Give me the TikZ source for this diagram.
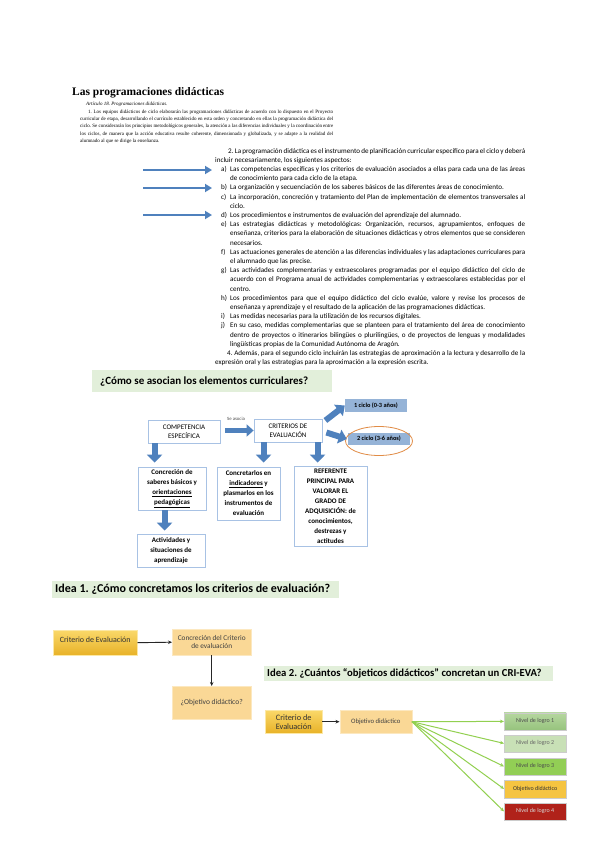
\documentclass[tikz,border=0pt]{standalone}
\usepackage{fontspec}
\setmainfont{Carlito}
\newfontfamily\seriffont{Liberation Serif}
\usetikzlibrary{arrows.meta,calc}
\definecolor{barblue}{RGB}{79,129,189}
\definecolor{boxblue}{RGB}{168,194,228}
\definecolor{cyclefill}{RGB}{149,179,215}
\definecolor{titlegreen}{RGB}{226,239,218}
\definecolor{goldtop}{RGB}{250,216,105}
\definecolor{goldbot}{RGB}{232,178,40}
\definecolor{peach}{RGB}{250,216,150}
\definecolor{lgreen}{RGB}{146,208,80}
\definecolor{ovalor}{RGB}{225,140,70}
\definecolor{g1top}{RGB}{182,215,160}
\definecolor{g1bot}{RGB}{150,195,125}
\definecolor{g2}{RGB}{200,224,182}
\definecolor{g3}{RGB}{146,206,85}
\definecolor{gold4}{RGB}{245,196,65}
\definecolor{red5}{RGB}{176,34,26}
\newcommand\itm[2]{\par\hangindent=15pt\hangafter=1\noindent\hbox to 15pt{\hspace*{6pt}#1\hfil}#2}
\frenchspacing
\begin{document}
\begin{tikzpicture}[x=1pt,y=-1pt,
  thinarr/.style={draw=barblue,line width=2.6pt,-{Triangle[length=7pt,width=8pt]}},
  blockarr/.style={draw=barblue,line width=6pt,-{Triangle[length=8pt,width=15pt]}},
  cbox/.style={draw=boxblue,line width=0.8pt,fill=white,align=center,inner sep=1pt,font=\fontsize{7}{9}\selectfont},
  lbox/.style={cbox,font=\bfseries\fontsize{7}{10}\selectfont},
  cyc/.style={fill=cyclefill,inner sep=1pt,font=\bfseries\fontsize{6.3}{7}\selectfont},
  ttl/.style={fill=titlegreen,anchor=north west,inner xsep=3pt,inner ysep=0pt},
  goldbox/.style={top color=goldtop,bottom color=goldbot,draw=goldtop!60!white,line width=0.4pt,inner sep=1pt,align=center},
  peachbox/.style={fill=peach,draw=peach!60!white,line width=0.4pt,inner sep=1pt,align=center,text=black!75},
  blackarr/.style={draw=black!85,line width=0.9pt,-{Stealth[length=4pt,width=3.5pt]}},
  greenarr/.style={draw=lgreen,line width=1pt,-{Stealth[length=4pt,width=3.5pt]}},
  lvl/.style={minimum width=62,minimum height=17.5,inner sep=1pt,font=\fontsize{6}{6.5}\selectfont,draw=white!80!black,line width=0.3pt}
]
\useasboundingbox (0,0) rectangle (600,848);
\fill[white] (0,0) rectangle (600,848);

% ---------- Section 1 ----------
\node[anchor=base west,inner sep=0,font=\seriffont\bfseries\fontsize{11.5}{12}\selectfont] (title) at (72,96) {Las programaciones didácticas};

\node[anchor=north west,inner sep=0,text width=253pt,align=justify,font=\seriffont\fontsize{5}{7.4}\selectfont] (para) at (80,102) {%
\hspace*{6pt}\textit{Artículo 18. Programaciones didácticas.}\par
\hspace*{8pt}1. Los equipos didácticos de ciclo elaborarán las programaciones didácticas de acuerdo con lo dispuesto en el Proyecto curricular de etapa, desarrollando el currículo establecido en esta orden y concretando en ellas la programación didáctica del ciclo. Se considerarán los principios metodológicos generales, la atención a las diferencias individuales y la coordinación entre los ciclos, de manera que la acción educativa resulte coherente, dimensionada y globalizada, y se adapte a la realidad del alumnado al que se dirige la enseñanza.};

\node[anchor=north west,inner sep=0,text width=310pt,align=justify,font=\fontsize{7.1}{9.2}\selectfont] (art) at (215,148) {%
\hyphenpenalty=10000\exhyphenpenalty=10000
\hspace*{13pt}2. La programación didáctica es el instrumento de planificación curricular específico para el ciclo y deberá incluir necesariamente, los siguientes aspectos:
\itm{a)}{Las competencias específicas y los criterios de evaluación asociados a ellas para cada una de las áreas de conocimiento para cada ciclo de la etapa.}
\itm{b)}{La organización y secuenciación de los saberes básicos de las diferentes áreas de conocimiento.}
\itm{c)}{La incorporación, concreción y tratamiento del Plan de implementación de elementos transversales al ciclo.}
\itm{d)}{Los procedimientos e instrumentos de evaluación del aprendizaje del alumnado.}
\itm{e)}{Las estrategias didácticas y metodológicas: Organización, recursos, agrupamientos, enfoques de enseñanza, criterios para la elaboración de situaciones didácticas y otros elementos que se consideren necesarios.}
\itm{f)}{Las actuaciones generales de atención a las diferencias individuales y las adaptaciones curriculares para el alumnado que las precise.}
\itm{g)}{Las actividades complementarias y extraescolares programadas por el equipo didáctico del ciclo de acuerdo con el Programa anual de actividades complementarias y extraescolares establecidas por el centro.}
\itm{h)}{Los procedimientos para que el equipo didáctico del ciclo evalúe, valore y revise los procesos de enseñanza y aprendizaje y el resultado de la aplicación de las programaciones didácticas.}
\itm{i)}{Las medidas necesarias para la utilización de los recursos digitales.}
\itm{j)}{En su caso, medidas complementarias que se planteen para el tratamiento del área de conocimiento dentro de proyectos o itinerarios bilingües o plurilingües, o de proyectos de lenguas y modalidades lingüísticas propias de la Comunidad Autónoma de Aragón.}
\par\noindent\hspace*{12pt}4. Además, para el segundo ciclo incluirán las estrategias de aproximación a la lectura y desarrollo de la expresión oral y las estrategias para la aproximación a la expresión escrita.};

\coordinate (la1) at (143,170); \coordinate (ra1) at (212,170);
\coordinate (la2) at (143,188); \coordinate (ra2) at (212,188);
\coordinate (la3) at (143,215); \coordinate (ra3) at (212,215);
\draw[thinarr] (la1) -- (ra1);
\draw[thinarr] (la2) -- (ra2);
\draw[thinarr] (la3) -- (ra3);

% ---------- Section 2 ----------
\node[ttl,minimum height=22,font=\bfseries\fontsize{11}{12}\selectfont] (t2) at (92,370) {\makebox[234pt][l]{\hspace*{5pt}¿Cómo se asocian los elementos curriculares?}};

\node[cbox,minimum width=72,minimum height=23] (ce) at (184,431.5) {COMPETENCIA\\ESPECÍFICA};
\node[cbox,minimum width=68,minimum height=23] (cr) at (288,430.5) {CRITERIOS DE\\EVALUACIÓN};
\node[inner sep=0,font=\fontsize{4.8}{5}\selectfont,text=black!70] (asoc) at (236,419) {Se asocia};
\draw[blockarr,line width=5.5pt,-{Triangle[length=7pt,width=12pt]}] (ce.east) ++(5,-1) coordinate (sa) -- (sa -| cr.west) ;

\node[cyc,minimum width=62,minimum height=13] (c1) at (376,405.5) {1 ciclo (0-3 años)};
\node[cyc,minimum width=62,minimum height=12.5] (c2) at (379,439) {2 ciclo (3-6 años)};
\draw[ovalor,line width=0.8pt] (c2.center) ++(0,2) ellipse [x radius=33.5,y radius=14.5];
\draw[blockarr,line width=6pt,-{Triangle[length=8pt,width=14pt]}] ($(cr.east)+(3,-10)$) -- (c1.west);
\draw[blockarr,line width=6pt,-{Triangle[length=8pt,width=14pt]}] ($(cr.east)+(4,2)$) -- ($(c2.west)+(-1,0)$);

\node[lbox,minimum width=68,minimum height=43] (conc) at (172,488.5) {Concreción de\\saberes básicos y\\\underline{orientaciones}\\\underline{pedagógicas}};
\node[lbox,minimum width=68,minimum height=33] (act) at (171,550.5) {Actividades y\\situaciones de\\aprendizaje};
\node[lbox,minimum width=63,minimum height=53] (ccr) at (248.5,493.5) {Concretarlos en\\\underline{indicadores} y\\plasmarlos en los\\instrumentos de\\evaluación};
\node[lbox,minimum width=73,minimum height=80] (ref) at (330.5,506) {REFERENTE\\PRINCIPAL PARA\\VALORAR EL\\GRADO DE\\ADQUISICIÓN: de\\conocimientos,\\destrezas y\\actitudes};

\draw[blockarr] ($(ce.south west)+(7,0)$) coordinate (d1) -- ($(d1|-conc.north)+(0,-4)$);
\draw[blockarr] ($(conc.south west)+(27,0)$) coordinate (d2) -- ($(d2|-act.north)+(0,-3)$);
\draw[blockarr] ($(cr.south west)+(10,0)$) coordinate (d3) -- ($(d3|-ccr.north)+(0,-4)$);
\draw[blockarr] ($(cr.south west)+(64,0)$) coordinate (d4) -- ($(d4|-ref.north)+(0,-3)$);

% ---------- Section 3 ----------
\node[ttl,minimum height=17,font=\bfseries\fontsize{12}{13}\selectfont] (t3) at (52,581) {\makebox[281pt][l]{Idea 1. ¿Cómo concretamos los criterios de evaluación?}};

\node[goldbox,minimum width=84,minimum height=25,font=\fontsize{8}{9}\selectfont,text=black!80,anchor=north west] (ce1) at (53,630) {\raisebox{5pt}{Criterio de Evaluación}};
\node[peachbox,minimum width=79,minimum height=26,font=\fontsize{7.3}{8.5}\selectfont,anchor=north west] (cc1) at (172,629) {Concreción del Criterio\\de evaluación};
\node[peachbox,minimum width=79,minimum height=33,font=\fontsize{7.5}{8.5}\selectfont,anchor=north west] (ob1) at (172,686) {¿Objetivo didáctico?};
\draw[blackarr] (ce1.east) -- (cc1.west);
\draw[blackarr] (cc1.south) -- (ob1.north);

% ---------- Section 4 ----------
\node[ttl,minimum height=15,font=\bfseries\fontsize{10.7}{11}\selectfont] (t4) at (264,666) {\makebox[283pt][l]{Idea 2. ¿Cuántos “objeticos didácticos” concretan un CRI-EVA?}};

\node[goldbox,minimum width=57,minimum height=23,font=\fontsize{8.3}{9}\selectfont,text=black!80,anchor=north west] (ce2) at (265,710) {Criterio de\\Evaluación};
\node[peachbox,minimum width=72,minimum height=23,font=\fontsize{6.7}{7.5}\selectfont,anchor=north west] (od2) at (339.5,710) {Objetivo didáctico};
\draw[blackarr] (ce2.east) -- (od2.west);

\node[lvl,top color=g1top,bottom color=g1bot,text=black!70,anchor=north west] (n1) at (504,712.5) {Nivel de logro 1};
\node[lvl,fill=g2,text=black!60,anchor=north west] (n2) at (504,734.5) {Nivel de logro 2};
\node[lvl,fill=g3,text=black!70,anchor=north west] (n3) at (504,757.5) {Nivel de logro 3};
\node[lvl,fill=gold4,text=black!80,anchor=north west] (n4) at (504,780) {Objetivo didáctico};
\node[lvl,fill=red5,text=white!85!black,anchor=north west] (n5) at (504,802.5) {Nivel de logro 4};
\foreach \n in {n1,n2,n3,n4,n5} {\draw[greenarr] (od2.east) -- (\n.west);}
\end{tikzpicture}
\end{document}
